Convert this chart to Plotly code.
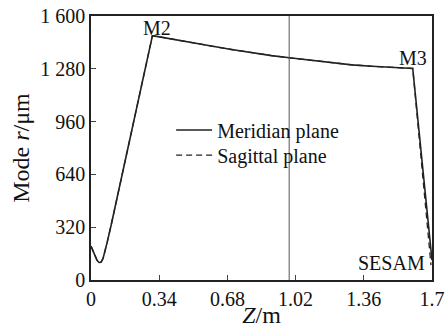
import plotly.graph_objects as go

# Data
z_meridian = [0, 0.01, 0.02, 0.03, 0.04, 0.05, 0.06, 0.07, 0.08, 0.10, 0.13, 0.17, 0.20, 0.25, 0.30, 0.306,
              0.32, 0.40, 0.50, 0.60, 0.70, 0.80, 0.90, 1.00, 1.10, 1.20, 1.30, 1.40, 1.50, 1.58, 1.604, 1.70]
r_meridian = [205, 175, 145, 120, 106, 108, 130, 175, 225, 330, 500, 727, 895, 1170, 1450, 1480,
              1478, 1462, 1440, 1418, 1397, 1377, 1360, 1345, 1330, 1316, 1304, 1295, 1288, 1284, 1282, 120]
z_sagittal = [0, 0.01, 0.02, 0.03, 0.04, 0.05, 0.06, 0.07, 0.08, 0.10, 0.13, 0.17, 0.20, 0.25, 0.30, 0.306,
              0.32, 0.40, 0.50, 0.60, 0.70, 0.80, 0.90, 1.00, 1.10, 1.20, 1.30, 1.40, 1.50, 1.58, 1.604, 1.695]
r_sagittal = [205, 175, 145, 120, 106, 108, 130, 175, 225, 330, 500, 727, 895, 1170, 1450, 1480,
              1478, 1462, 1440, 1418, 1397, 1377, 1360, 1345, 1330, 1316, 1304, 1295, 1288, 1284, 1282, 90]

x_ticks = [0, 0.34, 0.68, 1.02, 1.36, 1.7]
x_ticktext = ["0", "0.34", "0.68", "1.02", "1.36", "1.7"]
y_ticks = [0, 320, 640, 960, 1280, 1600]
y_ticktext = ["0", "320", "640", "960", "1 280", "1 600"]

marker_z = 0.988
labels = [("M2", 0.33, 1527), ("M3", 1.605, 1345), ("SESAM", 1.5, 103)]

FONT = "Liberation Serif, Times New Roman, serif"
FS = 20

fig = go.Figure()
fig.add_trace(go.Scatter(x=z_meridian, y=r_meridian, mode="lines", name="Meridian plane",
                         line=dict(color="#222", width=1.6), legend="legend"))
fig.add_trace(go.Scatter(x=z_sagittal, y=r_sagittal, mode="lines", name="Sagittal plane",
                         line=dict(color="#222", width=1.3, dash="6px,4px"), legend="legend2"))

fig.add_shape(type="line", x0=marker_z, x1=marker_z, y0=0, y1=1600, xref="x", yref="y",
              line=dict(color="#555", width=1))

for txt, xx, yy in labels:
    fig.add_annotation(x=xx, y=yy, text=txt, showarrow=False, font=dict(size=FS, family=FONT, color="#111"))

leg_common = dict(xanchor="left", yanchor="middle", bgcolor="rgba(0,0,0,0)",
                  font=dict(size=FS, family=FONT), itemwidth=36)
fig.update_layout(
    width=445, height=328,
    margin=dict(l=91, r=13, t=16, b=48),
    paper_bgcolor="white", plot_bgcolor="white",
    font=dict(family=FONT, size=FS, color="#111"),
    showlegend=True,
    legend=dict(x=0.235, y=0.568, **leg_common),
    legend2=dict(x=0.235, y=0.473, **leg_common),
)
fig.update_xaxes(range=[0, 1.7], tickvals=x_ticks, ticktext=x_ticktext, ticks="inside", ticklen=5,
                 showline=True, linecolor="#222", linewidth=1.5, mirror=True, showgrid=False, zeroline=False,
                 automargin=False, ticklabeloverflow="allow",
                 title=dict(text="<i>Z</i>/m", standoff=14), tickfont=dict(size=FS))
fig.update_yaxes(range=[0, 1600], tickvals=y_ticks, ticktext=y_ticktext, ticks="inside", ticklen=5,
                 showline=True, linecolor="#222", linewidth=1.5, mirror=True, showgrid=False, zeroline=False,
                 automargin=False, ticklabeloverflow="allow",
                 title=dict(text="Mode <i>r</i>/μm", standoff=4), tickfont=dict(size=FS))

fig.write_html("out.html", config={"displayModeBar": False},
               post_script="document.body.style.margin='0';")
